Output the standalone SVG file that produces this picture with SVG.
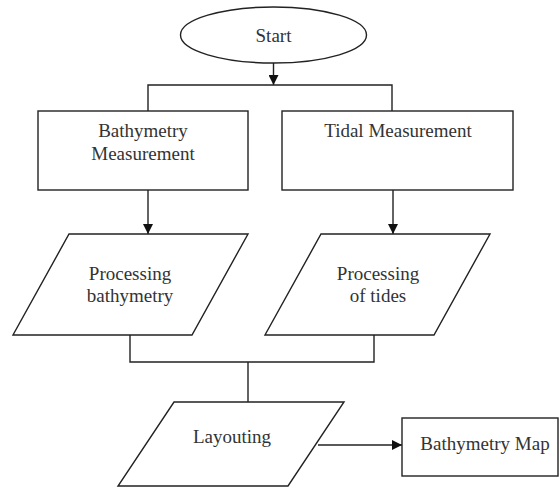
<svg xmlns="http://www.w3.org/2000/svg" width="560" height="487" viewBox="0 0 560 487">
<style>
.s{fill:#fff;stroke:#222;stroke-width:1.4}
.c{fill:none;stroke:#222;stroke-width:1.4}
text{font-family:"Liberation Serif","Times New Roman",serif;font-size:19px;fill:#333;text-anchor:middle}
</style>
<defs>
<marker id="ah" viewBox="0 0 10 10" refX="10" refY="5" markerWidth="10" markerHeight="10" markerUnits="userSpaceOnUse" orient="auto">
<path d="M0,0 L10,5 L0,10 Z" fill="#111"/>
</marker>
</defs>
<rect width="560" height="487" fill="#fff"/>
<g id="connectors">
<path class="c" d="M273.5,63 V85" marker-end="url(#ah)"/>
<path class="c" d="M148,111 V85 H392 V111"/>
<path class="c" d="M148,190 V234" marker-end="url(#ah)"/>
<path class="c" d="M393,190 V234" marker-end="url(#ah)"/>
<path class="c" d="M130,335 V362 H374 V335"/>
<path class="c" d="M248,362 V402"/>
<path class="c" d="M318,445 H402" marker-end="url(#ah)"/>
</g>
<g id="start">
<ellipse class="s" cx="273.5" cy="35" rx="93" ry="28"/>
<text x="273.5" y="42">Start</text>
</g>
<g id="bathymetry-measurement">
<rect class="s" x="38" y="111" width="210" height="79"/>
<text x="143" y="137">Bathymetry</text>
<text x="143" y="160">Measurement</text>
</g>
<g id="tidal-measurement">
<rect class="s" x="282" y="111" width="231" height="79"/>
<text x="398" y="137">Tidal Measurement</text>
</g>
<g id="processing-bathymetry">
<polygon class="s" points="69,234 248,234 192,335 13,335"/>
<text x="130" y="280">Processing</text>
<text x="130" y="302">bathymetry</text>
</g>
<g id="processing-tides">
<polygon class="s" points="321,234 490,234 434,335 265,335"/>
<text x="378" y="280">Processing</text>
<text x="378" y="302">of tides</text>
</g>
<g id="layouting">
<polygon class="s" points="174,402 344,402 288,486 118,486"/>
<text x="232" y="443">Layouting</text>
</g>
<g id="bathymetry-map">
<rect class="s" x="402" y="418" width="156" height="58"/>
<text x="485" y="450">Bathymetry Map</text>
</g>
</svg>
